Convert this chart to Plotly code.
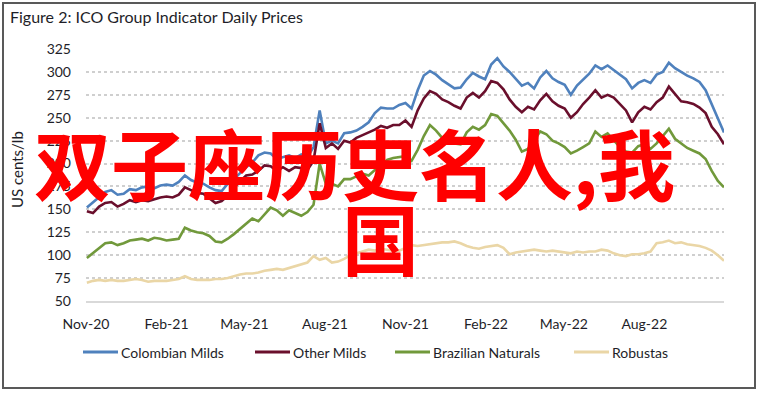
import plotly.graph_objects as go
import pandas as pd

# ---- data (weekly readings, US cents/lb) ----
start_date = "2020-11-02"
n_weeks = 105

colombian_milds = [
    152, 158, 163, 169, 171, 166, 167, 172, 171, 174,
    175, 173, 176, 177, 176, 180, 187, 182, 179, 178,
    174, 171, 170, 178, 183, 190, 196, 201, 209, 212,
    211, 205, 207, 209, 206, 210, 207, 218, 258, 222,
    225, 222, 233, 234, 236, 240, 245, 255, 261, 260,
    260, 264, 266, 260, 280, 296, 301, 297, 291, 286,
    282, 283, 292, 299, 295, 292, 308, 315, 306, 300,
    292, 285, 288, 282, 294, 301, 293, 289, 286, 275,
    285, 292, 298, 307, 303, 307, 302, 296, 292, 282,
    288, 291, 288, 297, 300, 310, 304, 300, 296, 293,
    289, 280, 264, 250, 234,
]
other_milds = [
    148, 146, 153, 157, 158, 153, 156, 160, 158, 160,
    159, 161, 163, 164, 163, 166, 174, 171, 168, 167,
    162, 157, 159, 165, 174, 181, 187, 188, 192, 198,
    197, 192, 196, 192, 196, 195, 193, 203, 244, 217,
    222, 216, 225, 223, 228, 231, 234, 237, 241, 239,
    242, 242, 247, 240, 258, 271, 279, 276, 270, 267,
    263, 260, 272, 277, 272, 279, 290, 288, 281, 270,
    262, 256, 262, 259, 269, 276, 268, 263, 260, 250,
    256, 265, 272, 280, 272, 275, 272, 265, 258, 245,
    256, 262, 259, 267, 272, 284, 276, 268, 267, 265,
    261, 255, 240, 232, 221,
]
brazilian_naturals = [
    97, 102, 107, 113, 114, 111, 113, 116, 117, 118,
    116, 119, 118, 116, 117, 118, 130, 127, 125, 124,
    121, 115, 114, 118, 123, 129, 135, 140, 137, 145,
    152, 149, 143, 149, 146, 143, 147, 155, 200, 178,
    178, 175, 183, 183, 186, 189, 187, 193, 197, 204,
    206, 207, 208, 203, 215, 230, 242, 236, 228, 225,
    222, 221, 234, 240, 237, 242, 254, 252, 244, 236,
    226, 213, 216, 226, 235, 232, 225, 222, 218, 211,
    214, 218, 222, 235, 229, 233, 226, 218, 213, 212,
    219, 221, 216, 222, 230, 238, 227, 222, 217, 214,
    211, 205, 192, 181, 174,
]
robustas = [
    70, 72, 73, 72, 73, 72, 72, 73, 74, 73,
    71, 72, 72, 72, 73, 74, 77, 74, 73, 73,
    73, 74, 74, 75, 77, 79, 80, 80, 81, 83,
    84, 85, 84, 86, 88, 90, 92, 99, 95, 97,
    92, 93, 96, 100, 102, 104, 106, 105, 107, 106,
    105, 105, 108, 111, 110, 111, 112, 113, 114, 114,
    115, 113, 110, 108, 107, 109, 110, 111, 108, 101,
    103, 104, 105, 106, 105, 104, 105, 104, 103, 102,
    104, 103, 104, 104, 106, 105, 102, 100, 99, 101,
    101, 102, 104, 113, 114, 116, 113, 114, 112, 111,
    110, 108, 105, 100, 94,
]

series_names = ["Colombian Milds", "Other Milds", "Brazilian Naturals", "Robustas"]
series_values = [colombian_milds, other_milds, brazilian_naturals, robustas]
series_colors = ["#4F81BD", "#6A0F2C", "#71993B", "#EAD6A6"]

x_tick_vals = ["2020-11-01", "2021-02-01", "2021-05-01", "2021-08-01",
               "2021-11-01", "2022-02-01", "2022-05-01", "2022-08-01"]
x_tick_text = ["Nov-20", "Feb-21", "May-21", "Aug-21",
               "Nov-21", "Feb-22", "May-22", "Aug-22"]
y_tick_vals = [50, 75, 100, 125, 150, 175, 200, 225, 250, 275, 300, 325]

title_text = "Figure 2: ICO Group Indicator Daily Prices"
y_title = "US cents/lb"
overlay_line1 = "双子座历史名人,我"
overlay_line2 = "国"

dates = pd.date_range(start_date, periods=n_weeks, freq="7D")

# ---- figure ----
W, H = 759, 393
L, R, T, B = 86, 35, 49, 92
pw, ph = W - L - R, H - T - B

def px_x(p):
    return (p - L) / pw

def px_y(p):
    return (H - B - p) / ph

fig = go.Figure()
for name, vals, col in zip(series_names, series_values, series_colors):
    fig.add_trace(go.Scatter(
        x=dates, y=vals, name=name, mode="lines",
        line=dict(color=col, width=2.6), showlegend=False,
    ))

font_family = "Lato, 'Open Sans', sans-serif"
text_color = "#1E1E28"

# manual legend (line sample + label) placed like the reference
legend_line_x = [83, 255, 395, 574]
legend_y = 352
shapes = [
    dict(type="rect", xref="paper", yref="paper",
         x0=px_x(3), x1=px_x(755), y0=px_y(388), y1=px_y(3),
         line=dict(color="#595959", width=2), fillcolor="rgba(0,0,0,0)",
         layer="above"),
]
annotations = []
for name, col, lx in zip(series_names, series_colors, legend_line_x):
    shapes.append(dict(type="line", xref="paper", yref="paper",
                       x0=px_x(lx), x1=px_x(lx + 35),
                       y0=px_y(legend_y), y1=px_y(legend_y),
                       line=dict(color=col, width=3)))
    annotations.append(dict(text=name, xref="paper", yref="paper",
                            x=px_x(lx + 36), y=px_y(legend_y),
                            xanchor="left", yanchor="middle", showarrow=False,
                            font=dict(size=14, color=text_color, family=font_family)))

annotations += [
    dict(text=y_title, xref="paper", yref="paper", x=px_x(17), y=px_y(170),
         xanchor="center", yanchor="middle", textangle=-90, showarrow=False,
         font=dict(size=15, color=text_color, family=font_family)),
    dict(text=overlay_line1, xref="paper", yref="paper",
         x=px_x(354), y=px_y(161), xanchor="center", yanchor="middle",
         showarrow=False,
         font=dict(family="Noto Sans CJK SC", size=77, color="#FF0000", weight="bold")),
    dict(text=overlay_line2, xref="paper", yref="paper",
         x=px_x(380), y=px_y(236), xanchor="center", yanchor="middle",
         showarrow=False,
         font=dict(family="Noto Sans CJK SC", size=77, color="#FF0000", weight="bold")),
]

fig.update_layout(
    width=W, height=H,
    margin=dict(l=L, r=R, t=T, b=B, autoexpand=False),
    paper_bgcolor="white", plot_bgcolor="white",
    font=dict(family=font_family, size=14, color=text_color),
    title=dict(text=title_text, x=10 / W, xanchor="left", xref="container",
               y=1 - 17 / H, yanchor="middle", yref="container",
               font=dict(size=16, color=text_color, family=font_family)),
    showlegend=False,
    xaxis=dict(
        range=["2020-11-01", "2022-10-31"], type="date",
        tickvals=x_tick_vals, ticktext=x_tick_text,
        showgrid=False, showline=True, linecolor="#D9D9D9", linewidth=1.5,
        ticks="", ticklabelstandoff=9, tickfont=dict(size=14),
        zeroline=False,
    ),
    yaxis=dict(
        range=[50, 325], tickvals=y_tick_vals,
        showgrid=True, gridcolor="#CFCFCF", griddash="dot", gridwidth=1.5,
        showline=False, zeroline=False, ticks="", ticklabelstandoff=14,
        tickfont=dict(size=14),
    ),
    shapes=shapes,
    annotations=annotations,
)

fig.write_html("out.html", config={"displayModeBar": False},
               post_script="document.body.style.margin='0px';")
